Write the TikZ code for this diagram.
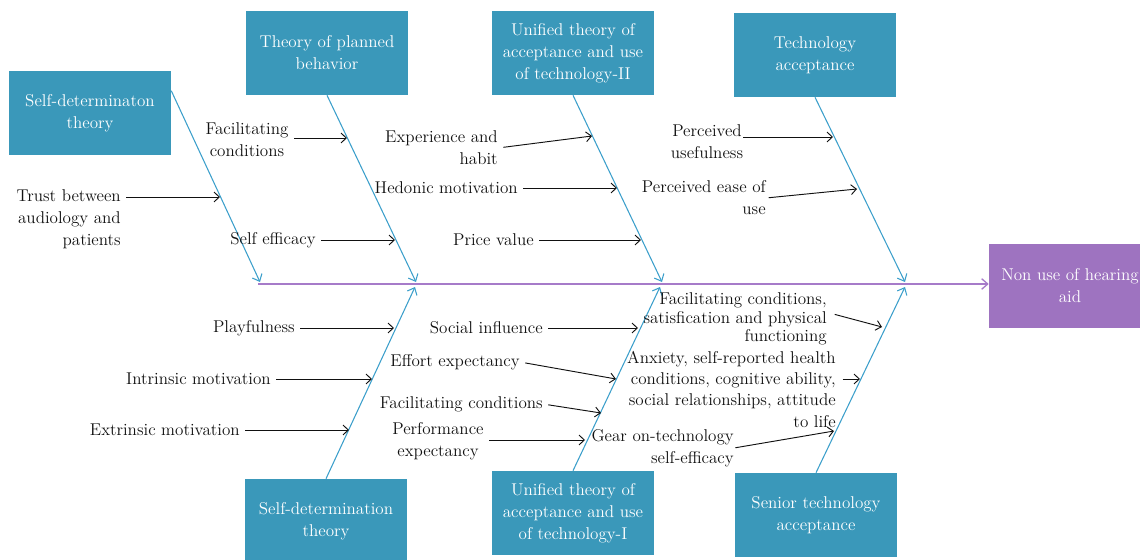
\documentclass[tikz,border=0pt]{standalone}
\usepackage{tikz}
\usetikzlibrary{arrows.meta,calc,positioning}
\definecolor{fbTeal}{HTML}{3A98BA}
\definecolor{fbBone}{HTML}{3C9FCB}
\definecolor{fbPurple}{HTML}{9E73C0}
\definecolor{fbSpine}{HTML}{A67BC9}
\definecolor{fbText}{HTML}{111111}
\tikzset{
  theory/.style={fill=fbTeal, text=white, align=center, inner sep=2pt,
    minimum width=121.5pt, minimum height=63pt},
  outcome/.style={fill=fbPurple, text=white, align=center, inner sep=2pt,
    minimum width=121.5pt, minimum height=63pt},
  bone/.style={fbBone, line width=0.8pt, -{Straight Barb[length=1.6mm,width=2.8mm]}},
  spine/.style={fbSpine, line width=1pt, -{Straight Barb[length=1.6mm,width=2.8mm]}},
  cause/.style={fbText, line width=0.7pt, shorten <=4pt,
    -{Straight Barb[length=1.4mm,width=2.6mm]}},
  factor/.style={fbText, inner sep=0pt},
}

\begin{document}
\begin{tikzpicture}[x=0.75pt, y=-0.75pt, font=\fontsize{12.8}{16.5}\selectfont]
  \useasboundingbox (0,0) rectangle (1140,560);

  % ---- Theory boxes ----
  \node[theory] (sdtA) at (90,113)  {Self-determinaton\\theory};
  \node[theory] (tpb)  at (327,53)  {Theory of planned\\behavior};
  \node[theory] (utB)  at (573,53)  {Unified theory of\\acceptance and use\\of technology-II};
  \node[theory] (tam)  at (815,55)  {Technology\\acceptance};
  \node[theory] (sdtB) at (326,521) {Self-determination\\theory};
  \node[theory] (utA)  at (573,513) {Unified theory of\\acceptance and use\\of technology-I};
  \node[theory] (stam) at (816,515) {Senior technology\\acceptance};
  \node[outcome] (effect) at (1070,286) {Non use of hearing\\aid};

  % ---- Spine ----
  \coordinate (tail) at (258,284);
  \draw[spine] (tail) -- (tail -| effect.west);

  % ---- Bones ----
  \coordinate (headA) at (260,282);
  \coordinate (headB) at (416,282);
  \coordinate (headC) at (662,282);
  \coordinate (headD) at (905,282);
  \coordinate (footA) at (415,287);
  \coordinate (footB) at (660,287);
  \coordinate (footC) at (905,287);
  \draw[bone] ([yshift=-15pt]sdtA.north east) -- (headA);
  \draw[bone] (tpb.south) -- (headB);
  \draw[bone] (utB.south) -- (headC);
  \draw[bone] (tam.south) -- (headD);
  \draw[bone] (sdtB.north) -- (footA);
  \draw[bone] (utA.north) -- (footB);
  \draw[bone] (stam.north) -- (footC);

  % ---- Factors above the spine ----
  \node[factor, anchor=east, align=right] (trust) at (121,219)
    {Trust between\\audiology and\\patients};
  \node[factor, align=center] (facA) at (247,140) {Facilitating\\conditions};
  \node[factor] (selfeff) at (273,240) {Self efficacy};
  \node[factor, anchor=east, align=right] (habit) at (498,148) {Experience and\\habit};
  \node[factor, anchor=east] (hedonic) at (518,188) {Hedonic motivation};
  \node[factor, anchor=east] (price) at (534,240) {Price value};
  \node[factor, align=center] (useful) at (707,142) {Perceived\\usefulness};
  \node[factor, anchor=east, align=right] (ease) at (766,198) {Perceived ease of\\use};

  \coordinate (tTrust)   at (220,197);
  \coordinate (tFacA)    at (347,138);
  \coordinate (tSelf)    at (395,240);
  \coordinate (tHabit)   at (592,136);
  \coordinate (tHedonic) at (617,188);
  \coordinate (tPrice)   at (641,240);
  \coordinate (tUseful)  at (833,137);
  \coordinate (tEase)    at (857,189);

  \draw[cause] (trust.east |- tTrust) -- (tTrust);
  \draw[cause] (facA.east |- tFacA) -- (tFacA);
  \draw[cause] (selfeff.east) -- (tSelf);
  \draw[cause] (habit.east) -- (tHabit);
  \draw[cause] (hedonic.east) -- (tHedonic);
  \draw[cause] (price.east) -- (tPrice);
  \draw[cause, shorten <=0pt] (useful.east |- tUseful) -- (tUseful);
  \draw[cause, shorten <=2pt] (ease.east) -- (tEase);

  % ---- Factors below the spine ----
  \node[factor, anchor=east] (playful) at (295,328) {Playfulness};
  \node[factor, anchor=east] (intrinsic) at (271,379) {Intrinsic motivation};
  \node[factor, anchor=east] (extrinsic) at (240,430) {Extrinsic motivation};
  \node[factor, anchor=east] (social) at (543,328) {Social influence};
  \node[factor, anchor=east] (effort) at (520,362) {Effort expectancy};
  \node[factor, anchor=east] (facB) at (543,404) {Facilitating conditions};
  \node[factor, align=center] (perform) at (438,441) {Performance\\expectancy};
  \node[factor, anchor=east, align=right, font=\fontsize{12.8}{14}\selectfont] (satis)
    at (827,319) {Facilitating conditions,\\satisfication and physical\\functioning};
  \node[factor, anchor=east, align=right, font=\fontsize{12.8}{16}\selectfont] (anxiety)
    at (836,389) {Anxiety, self-reported health\\conditions, cognitive ability,\\social relationships, attitude\\to life};
  \node[factor, anchor=east, align=right] (gear) at (734,448)
    {Gear on-technology\\self-efficacy};

  \coordinate (tPlay)    at (394,328);
  \coordinate (tIntr)    at (372,379);
  \coordinate (tExtr)    at (349,430);
  \coordinate (tSocial)  at (638,328);
  \coordinate (tEffort)  at (616,379);
  \coordinate (tFacB)    at (601,413);
  \coordinate (tPerform) at (585,440);
  \coordinate (tSatis)   at (882,327);
  \coordinate (tAnx)     at (860,379);
  \coordinate (tGear)    at (834,431);

  \draw[cause] (playful.east) -- (tPlay);
  \draw[cause] (intrinsic.east) -- (tIntr);
  \draw[cause] (extrinsic.east) -- (tExtr);
  \draw[cause] (social.east) -- (tSocial);
  \draw[cause] (effort.east) -- (tEffort);
  \draw[cause] (facB.east) -- (tFacB);
  \draw[cause] (perform.east |- tPerform) -- (tPerform);
  \draw[cause, shorten <=6pt] ([yshift=5pt]satis.east) -- (tSatis);
  \draw[cause, shorten <=5pt] (anxiety.east |- tAnx) -- (tAnx);
  \draw[cause, shorten <=1pt] (gear.east) -- (tGear);
\end{tikzpicture}
\end{document}
